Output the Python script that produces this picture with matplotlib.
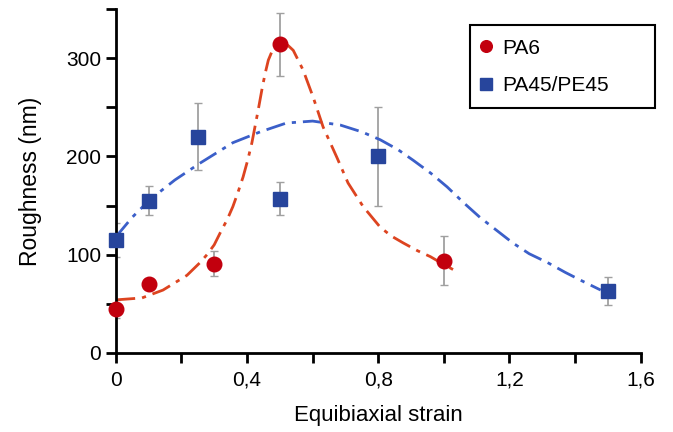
import matplotlib.pyplot as plt
import matplotlib.patches as mpatches
import numpy as np

plt.rcParams['font.family'] = ['Liberation Sans', 'DejaVu Sans']

# measured points
pa6_x = [0, 0.1, 0.3, 0.5, 1.0]
pa6_y = [45, 70, 91, 314, 94]
pa6_err = [9, 0, 13, 32, 25]

pe_x = [0, 0.1, 0.25, 0.5, 0.8, 1.5]
pe_y = [115, 155, 220, 157, 200, 63]
pe_err = [17, 15, 34, 17, 50, 14]

# fitted curves
pa6_fit_x = [0, 0.08, 0.144, 0.217, 0.257, 0.278, 0.30, 0.318, 0.34, 0.357, 0.372, 0.388,
             0.402, 0.415, 0.434, 0.446, 0.455, 0.465, 0.475, 0.49, 0.507, 0.525, 0.541,
             0.571, 0.602, 0.632, 0.674, 0.708, 0.754, 0.806, 0.84, 0.876, 0.92, 0.959,
             1.0, 1.044]
pa6_fit_y = [54, 56, 64, 79, 92, 100, 110, 122, 136, 149, 163, 179,
             196, 214, 247, 269, 284, 298, 306, 313, 315, 313, 308,
             288, 260, 230, 199, 173, 149, 128, 119, 112, 104, 98,
             90, 82]

pe_fit_x = [0, 0.05, 0.104, 0.18, 0.256, 0.357, 0.44, 0.52, 0.6, 0.684, 0.75, 0.806,
            0.86, 0.907, 0.96, 1.01, 1.06, 1.11, 1.16, 1.21, 1.26, 1.316, 1.37,
            1.417, 1.478]
pe_fit_y = [118, 138, 156, 176, 193, 214, 225, 234, 236, 232, 225, 217,
            207, 196, 183, 169, 153, 138, 125, 112, 101, 92, 82,
            74, 64]

fig = plt.figure(figsize=(6.73, 4.32), dpi=100)
ax = fig.add_axes([0.172, 0.183, 0.78, 0.796])

dashdot = (0, (7, 2.5, 1.5, 2.5))
ax.plot(pe_fit_x, pe_fit_y, color='#3b5fc9', lw=2, linestyle=dashdot, zorder=2)
ax.plot(pa6_fit_x, pa6_fit_y, color='#dd4420', lw=2, linestyle=dashdot, zorder=2)

ax.errorbar(pa6_x, pa6_y, yerr=pa6_err, fmt='none', ecolor='#a0a0a0',
            elinewidth=1.3, capsize=3, zorder=1)
ax.errorbar(pe_x, pe_y, yerr=pe_err, fmt='none', ecolor='#a0a0a0',
            elinewidth=1.3, capsize=3, zorder=1)

ax.plot(pa6_x, pa6_y, 'o', color='#c2000e', ms=10.5, mec='#c2000e',
        label='PA6', zorder=3, clip_on=False)
ax.plot(pe_x, pe_y, 's', color='#27459c', ms=10.5, mec='#27459c',
        label='PA45/PE45', zorder=3, clip_on=False)

ax.set_xlim(0, 1.6)
ax.set_ylim(0, 350)
ax.set_xticks(np.arange(0, 1.61, 0.4))
ax.set_xticklabels(['0', '0,4', '0,8', '1,2', '1,6'])
ax.set_xticks(np.arange(0, 1.61, 0.2), minor=True)
ax.set_yticks([0, 100, 200, 300])
ax.set_yticks(np.arange(0, 351, 50), minor=True)

for s in ['top', 'right']:
    ax.spines[s].set_visible(False)
for s in ['left', 'bottom']:
    ax.spines[s].set_linewidth(2)

ax.tick_params(which='both', direction='out', width=2, length=7, labelsize=15)
ax.tick_params(axis='x', pad=6)
ax.set_xlabel('Equibiaxial strain', fontsize=16)
ax.set_ylabel('Roughness (nm)', fontsize=16.5)
ax.xaxis.set_label_coords(0.5, -0.15)
ax.yaxis.set_label_coords(-0.14, 0.5)

# legend box is wider than its content in the original
box = mpatches.Rectangle((470 / 673, 1 - 108 / 432), 185 / 673, 83 / 432,
                         transform=fig.transFigure, facecolor='white',
                         edgecolor='black', lw=1.5, zorder=4)
fig.patches.append(box)
leg = fig.legend(*ax.get_legend_handles_labels(), loc='center left',
                 bbox_to_anchor=(479 / 673, 1 - 67 / 432), fontsize=15,
                 frameon=False, handlelength=0.7, handletextpad=0.4,
                 borderpad=0, borderaxespad=0, labelspacing=0.9, markerscale=0.8)
leg.set_zorder(5)

fig.savefig('out.png', dpi=100)
